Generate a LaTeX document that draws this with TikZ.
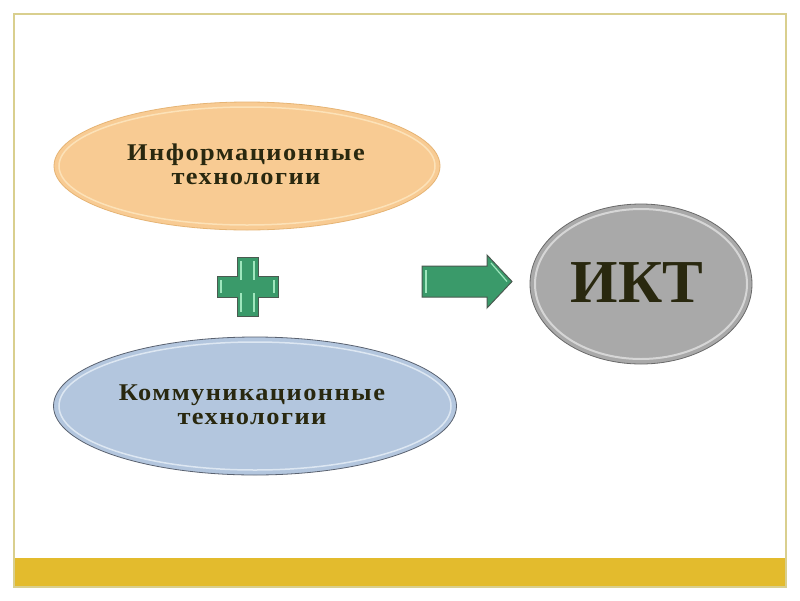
\documentclass[tikz,border=0pt]{standalone}
\usepackage{fontspec}
\setmainfont{Liberation Serif}
\newfontfamily\lblfont[LetterSpace=6,FakeStretch=1.1]{Liberation Serif}
\usetikzlibrary{shapes.geometric}
\definecolor{frameC}{HTML}{D9CF8E}
\definecolor{goldC}{HTML}{E3BB2D}
\definecolor{peach}{HTML}{F8CB93}
\definecolor{peachRim}{HTML}{FCE2B8}
\definecolor{peachEdge}{HTML}{E6B474}
\definecolor{blueC}{HTML}{B3C6DE}
\definecolor{blueRim}{HTML}{DDE7F2}
\definecolor{blueEdge}{HTML}{5A6270}
\definecolor{grayC}{HTML}{A9A9A9}
\definecolor{grayRim}{HTML}{D6D6D6}
\definecolor{grayEdge}{HTML}{6A6A6A}
\definecolor{greenC}{HTML}{3A9A6A}
\definecolor{greenHi}{HTML}{9FE6BD}
\definecolor{greenEdge}{HTML}{4A5A50}
\definecolor{txtC}{HTML}{29280F}
\tikzset{
  oval/.style={ellipse, inner sep=0pt, line width=0.8pt, align=center,
    text=txtC, font=\lblfont\bfseries\fontsize{24}{24}\selectfont},
  greenshape/.style={fill=greenC, draw=greenEdge, line width=1pt, line join=miter},
  hiline/.style={draw=greenHi, line width=1.2pt}
}
\begin{document}
\begin{tikzpicture}[x=1pt,y=-1pt]
\useasboundingbox (0,0) rectangle (800,600);
\fill[white] (0,0) rectangle (800,600);
% frame and bottom bar
\draw[frameC, line width=2.5pt] (14,14) rectangle (786,587);
\fill[goldC] (15,558) rectangle (785,586);

% information technologies
\node[oval, fill=peach, draw=peachEdge, minimum width=386pt, minimum height=128pt] (it) at (247,166) {};
\draw[peachRim, line width=1.5pt] (it.center) ellipse [x radius=188, y radius=59];
\node[oval] (itText) at (246,164) {Информационные\\технологии};

% communication technologies
\node[oval, fill=blueC, draw=blueEdge, minimum width=403pt, minimum height=138pt] (ct) at (255,406) {};
\draw[blueRim, line width=1.5pt] (ct.center) ellipse [x radius=196, y radius=64];
\node[oval] (ctText) at (252,405) {Коммуникационные\\технологии};

% ICT
\node[ellipse, inner sep=0pt, fill=grayC, draw=grayEdge, line width=0.8pt, minimum width=222pt, minimum height=160pt] (ikt) at (641,284) {};
\draw[grayRim, line width=2pt] (ikt.center) ellipse [x radius=106, y radius=75];
\node[text=txtC, font=\bfseries\fontsize{61}{61}\selectfont, inner sep=0pt] (iktText) at (637,283) {ИКТ};

% plus sign
\coordinate (plus) at (247.5,286.5);
\path[greenshape] (237,257)--(258,257)--(258,276)--(278,276)--(278,297)--(258,297)--(258,316)--(237,316)--(237,297)--(217,297)--(217,276)--(237,276)--cycle;
\draw[hiline] (241,261)--(241,280) (254,261)--(254,280);
\draw[hiline] (241,293)--(241,312) (254,293)--(254,312);
\draw[hiline] (221,280)--(221,293) (274,280)--(274,293);

% arrow
\coordinate (arrowtail) at (422,281.5);
\path[greenshape] (422,266)--(487,266)--(487,255)--(512,281.5)--(487,308)--(487,297)--(422,297)--cycle;
\draw[hiline] (426,270)--(426,293);
\draw[hiline] (491,263)--(507,281.5);
\end{tikzpicture}
\end{document}
